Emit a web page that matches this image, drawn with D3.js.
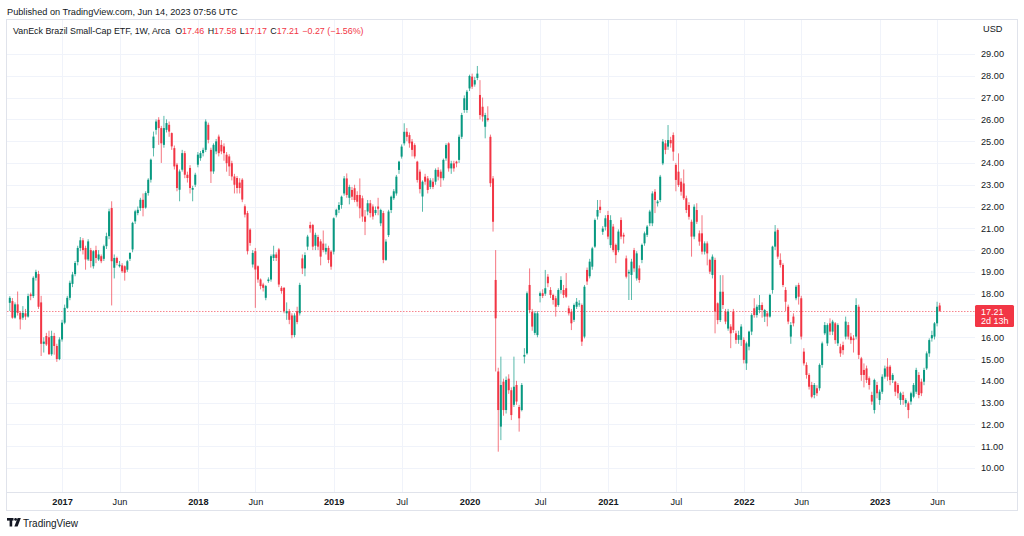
<!DOCTYPE html>
<html><head><meta charset="utf-8">
<script src="https://cdn.jsdelivr.net/npm/d3@7"></script>
<style>body{margin:0;background:#fff}svg{display:block;font-family:"Liberation Sans",Arial,sans-serif}</style>
</head><body><svg id="c" width="1024" height="536"></svg>
<script>
// ---- data (weekly bars, first bar week of 2016-08-15) ----
const startDate = "2016-08-15";
const opens = [
17.58,17.66,16.9,17.51,17.12,16.9,17.1,16.95,17.97,17.89,
18.73,18.9,17.6,15.7,16.06,16.0,15.22,16.06,15.6,15.0,
15.9,16.67,17.35,17.81,18.45,18.9,19.45,20.1,20.45,20.1,
19.57,20.0,19.26,20.0,19.57,19.72,19.6,20.18,20.64,21.93,
19.19,19.64,19.26,19.3,19.26,19.1,19.6,20.03,21.32,21.7,
21.93,22.31,21.95,22.62,23.23,24.68,25.52,25.98,25.6,24.83,
25.52,25.75,25.37,24.68,23.92,22.77,23.69,24.45,23.46,23.77,
22.77,23.0,23.92,24.22,24.45,24.6,25.75,24.6,23.61,24.53,
25.21,24.83,24.76,24.38,24.3,23.99,23.38,23.31,23.1,23.23,
22.01,21.7,20.94,19.34,19.95,19.26,18.65,18.42,17.81,18.58,
18.65,19.64,19.8,20.03,18.27,18.27,17.1,17.2,17.0,16.1,
17.2,17.1,19.62,19.16,20.16,21.15,21.15,20.2,20.6,20.4,
20.3,19.93,20.1,19.93,19.93,21.6,21.85,22.07,22.6,23.29,
22.4,22.76,22.84,22.53,22.53,22.38,21.54,21.77,22.15,22.0,
21.7,22.0,21.23,21.7,19.55,20.69,21.84,22.38,22.6,23.68,
24.29,24.9,25.43,25.28,24.98,24.82,24.06,23.6,22.46,23.37,
23.29,22.9,23.14,23.14,23.68,23.6,23.3,24.21,24.9,23.75,
23.98,24.06,24.14,25.2,26.43,26.43,27.42,27.96,27.6,27.9,
27.12,26.58,25.66,26.05,25.2,23.29,18.63,14.43,11.9,13.96,
12.66,14.1,13.57,12.9,13.81,12.8,12.66,15.11,15.26,18.4,
17.17,16.2,16.1,17.9,18.02,18.0,18.78,18.17,17.94,17.79,
17.48,18.17,18.17,18.25,17.33,17.17,16.8,17.4,17.5,17.48,
16.03,19.09,18.8,19.24,20.16,21.54,21.99,20.84,21.07,21.61,
20.23,21.08,20.24,20.0,21.38,20.7,19.62,18.93,18.86,20.0,
18.7,19.16,19.55,20.31,20.7,21.23,21.23,22.68,22.15,22.3,
23.98,24.9,24.75,25.05,25.28,23.91,23.6,23.14,23.06,22.38,
22.07,21.3,20.62,21.84,20.77,20.77,19.93,20.31,19.55,18.86,
19.55,17.56,16.79,18.09,17.18,16.4,16.49,17.18,16.18,15.88,
15.88,15.88,14.8,15.57,16.26,17.33,17.02,17.25,17.48,16.95,
17.1,16.95,18.17,20.16,20.92,19.55,19.32,18.17,17.4,16.03,
16.95,17.79,18.4,17.79,15.34,14.73,14.27,13.81,13.35,13.66,
13.66,14.73,16.18,15.72,16.64,16.26,16.64,15.72,15.57,15.64,
16.03,16.56,16.03,15.95,16.03,17.4,15.03,14.5,14.57,14.12,
13.35,12.66,13.81,13.12,13.5,14.19,14.65,14.65,14.04,13.96,
13.81,13.12,13.35,12.97,12.97,13.05,13.27,13.5,14.27,13.96,
13.96,14.57,15.26,15.95,16.03,16.64,17.46];
const highs = [
17.89,17.8,17.6,18.1,17.2,17.43,17.3,18.0,18.05,18.8,
19.1,19.05,17.9,16.0,16.2,16.3,16.3,16.2,15.7,16.0,
16.8,17.5,17.9,18.6,19.0,19.5,20.2,20.6,20.55,20.2,
20.5,20.1,20.0,20.2,20.0,19.8,20.25,20.8,21.9,22.24,
19.8,19.7,19.5,19.4,19.3,19.55,19.9,21.3,21.85,22.0,
22.4,22.6,22.7,23.3,24.2,25.44,26.0,26.1,25.7,26.16,
26.0,25.9,25.4,24.8,24.0,23.7,24.6,24.55,23.6,23.9,
22.95,23.55,24.5,24.55,24.7,26.0,25.85,24.7,24.9,25.1,
25.3,25.05,24.9,24.5,24.4,24.1,23.5,23.4,23.3,23.3,
22.1,21.8,21.0,20.0,20.1,19.3,18.7,18.5,18.4,18.75,
19.8,20.2,19.9,20.1,18.35,18.3,17.6,17.3,17.1,17.1,
17.4,18.5,19.8,19.9,20.7,21.3,21.2,20.8,20.7,20.5,
20.9,20.3,20.2,20.0,21.5,21.9,22.2,22.5,23.4,23.52,
23.0,22.9,23.0,22.7,23.29,22.5,21.84,22.3,22.3,22.1,
22.0,22.4,21.9,21.8,20.5,21.85,22.5,22.8,23.45,24.1,
24.85,25.82,25.6,25.4,25.1,24.9,24.1,23.7,23.2,23.5,
23.4,23.3,23.3,23.75,23.8,23.7,24.2,24.9,24.95,24.1,
24.1,24.1,25.3,26.3,27.1,27.35,28.05,28.1,27.95,28.45,
27.8,27.0,26.3,26.6,25.3,23.4,20.0,14.6,15.11,14.1,
14.2,14.3,13.7,15.11,14.0,12.9,13.9,15.5,18.1,19.16,
17.3,17.2,17.2,18.1,18.2,19.09,18.9,18.3,18.0,17.9,
18.25,18.8,18.4,18.95,17.45,17.3,17.55,17.8,17.7,17.55,
18.4,19.2,19.6,20.15,21.45,22.3,22.3,21.1,21.6,21.8,
21.6,21.2,20.3,20.95,21.5,20.8,19.75,19.1,19.6,20.1,
19.95,19.3,20.3,20.85,21.15,21.85,22.7,22.8,22.3,23.45,
25.1,25.05,25.74,25.2,25.4,24.0,24.44,23.3,23.7,22.5,
22.2,21.4,22.1,22.15,20.9,21.6,20.4,20.4,19.6,19.8,
19.65,17.6,18.85,18.85,17.3,17.3,16.6,17.3,16.3,16.3,
16.6,16.0,15.8,16.3,17.1,17.79,17.5,17.94,17.6,17.3,
17.2,18.0,20.2,21.15,21.0,19.85,19.4,18.3,17.5,16.7,
17.1,18.4,18.5,17.9,15.5,14.85,14.35,13.95,13.9,13.8,
14.8,15.8,16.7,16.64,16.87,16.8,16.7,16.64,15.7,15.8,
16.95,16.7,16.2,16.1,17.79,17.5,15.1,14.8,14.7,14.2,
13.5,14.1,13.95,13.6,14.3,14.7,15.04,14.73,14.35,14.0,
13.9,13.5,13.5,13.2,13.05,13.5,13.9,14.6,14.4,14.1,
14.6,15.35,15.95,16.3,16.7,17.63,17.58];
const lows = [
17.2,16.85,16.85,17.0,16.36,16.8,16.8,16.9,17.7,17.8,
18.6,17.3,15.14,15.3,15.6,15.2,15.15,15.2,14.87,14.95,
15.8,16.6,17.3,17.7,18.3,18.8,19.3,19.95,19.8,19.1,
19.5,19.2,19.15,19.4,19.5,19.4,19.5,20.05,20.5,17.46,
18.7,19.3,19.2,18.95,18.6,19.0,19.5,19.9,21.2,21.6,
21.8,21.55,21.9,22.5,23.1,24.3,25.3,24.83,24.0,24.7,
25.4,25.2,24.6,23.7,22.7,22.24,23.6,23.3,23.1,22.6,
22.24,22.9,23.8,24.1,24.3,24.5,24.9,23.08,23.5,24.4,
24.3,24.4,24.1,23.6,23.4,23.2,22.6,22.6,22.6,22.2,
21.5,19.8,20.2,19.2,17.35,18.5,18.2,18.1,17.7,18.5,
18.55,19.5,19.5,18.3,18.0,17.1,16.8,16.6,15.95,16.0,
16.6,17.0,18.9,18.8,20.0,20.8,20.0,20.0,20.0,19.3,
19.9,19.8,19.4,19.1,19.8,21.5,21.7,21.9,22.5,22.4,
22.1,22.3,22.2,22.0,21.46,21.3,20.69,21.6,21.5,21.4,
21.6,21.6,21.1,19.4,19.5,20.6,21.7,22.3,22.5,23.5,
24.2,24.8,25.0,24.7,24.3,24.2,23.1,22.6,21.76,23.0,
22.6,22.8,22.8,23.0,23.2,22.9,23.2,24.1,23.6,23.5,
23.6,23.8,24.0,25.1,26.3,26.3,27.3,27.4,27.5,27.8,
26.0,25.9,25.13,25.9,22.9,20.85,14.43,10.75,11.28,12.4,
12.5,13.4,12.2,12.8,12.9,11.67,12.6,14.8,15.2,17.1,
16.3,16.1,16.0,17.6,17.8,17.9,18.3,17.8,17.5,16.95,
17.4,18.0,17.8,17.8,17.0,16.33,16.7,17.3,17.4,15.6,
15.95,18.4,18.7,19.1,20.1,21.4,21.7,20.7,20.9,20.5,
20.1,19.9,19.4,19.9,20.5,20.3,18.7,17.71,17.71,19.0,
18.6,18.5,19.4,20.2,20.6,21.1,21.1,21.7,22.0,22.2,
23.9,24.4,24.6,24.7,24.1,22.7,22.9,22.5,22.3,21.7,
21.4,19.7,20.5,21.2,20.2,19.8,19.8,19.3,18.9,18.7,
16.18,16.6,16.7,17.3,16.6,16.3,15.5,16.2,15.7,15.7,
15.6,14.8,14.5,15.4,16.1,16.9,16.9,17.1,16.9,16.7,
16.5,16.9,18.0,20.0,19.6,19.2,18.3,17.2,16.6,15.7,
16.5,17.7,17.5,15.9,14.7,14.1,13.6,13.2,13.2,13.3,
13.55,14.6,16.1,15.6,16.1,16.1,15.7,15.6,15.1,15.2,
15.9,15.9,15.7,15.3,15.9,15.0,14.0,13.7,13.9,13.6,
12.9,12.5,13.2,12.9,13.4,14.1,14.0,13.8,13.9,13.3,
13.2,12.9,12.9,12.8,12.28,12.9,13.2,13.4,13.2,13.3,
13.8,14.5,15.1,15.8,15.9,16.5,17.17];
const closes = [
17.81,16.9,17.51,17.12,16.82,17.12,16.95,17.89,17.89,18.73,
19.0,17.4,15.7,15.8,15.67,15.22,16.06,15.6,15.0,15.9,
16.67,17.35,17.81,18.5,18.88,19.41,20.1,20.45,20.0,19.57,
20.4,19.5,19.95,19.64,19.8,19.49,20.18,20.64,21.78,19.49,
19.64,19.41,19.33,19.03,18.96,19.49,19.87,21.25,21.78,21.85,
22.31,21.93,22.62,23.23,24.15,25.21,25.9,25.6,24.9,25.6,
25.83,25.44,24.76,23.84,22.85,23.61,24.45,23.46,23.31,22.85,
22.85,23.46,24.38,24.45,24.6,25.9,25.06,23.61,24.83,24.99,
24.45,24.53,24.45,23.99,23.84,23.38,23.0,22.85,22.85,22.32,
21.63,19.95,20.33,19.87,19.11,18.65,18.35,18.27,18.35,18.65,
19.72,19.8,19.64,18.42,18.12,17.2,17.2,16.8,16.1,17.0,
16.7,18.4,19.16,19.77,20.62,21.0,20.16,20.7,20.16,19.7,
20.0,20.1,19.55,19.24,21.46,21.85,22.07,22.45,23.29,22.53,
22.9,22.45,22.3,22.22,21.92,21.54,21.3,22.15,21.7,21.54,
21.84,21.9,21.84,19.55,20.39,21.77,22.45,22.7,23.37,24.06,
24.75,25.43,25.2,24.9,24.6,24.3,23.22,22.8,23.14,23.14,
22.76,23.2,22.9,23.68,23.37,23.3,24.14,24.82,23.75,23.98,
23.75,23.98,25.2,26.2,26.97,27.27,27.99,27.5,27.8,28.1,
26.2,26.13,26.2,25.97,23.07,21.3,16.87,12.66,13.81,12.66,
14.04,13.57,12.43,13.73,13.05,12.28,13.81,15.19,18.02,17.25,
16.49,17.1,17.1,18.02,17.9,18.25,18.48,17.94,17.71,17.4,
18.17,18.63,17.94,17.86,17.1,16.64,17.48,17.63,17.55,15.8,
18.32,18.56,19.47,20.08,21.38,21.84,21.84,20.99,21.46,20.62,
21.38,20.0,19.77,20.85,20.62,20.62,18.78,19.0,19.47,19.16,
19.85,18.63,20.24,20.77,21.08,21.77,22.6,22.3,22.23,23.37,
24.98,24.6,25.05,24.9,24.52,23.22,22.99,22.68,22.38,21.84,
21.53,20.62,21.99,21.3,20.39,19.93,20.31,19.85,19.01,19.7,
17.18,16.79,18.09,17.48,16.72,17.18,16.18,16.33,15.88,16.1,
16.49,14.96,15.72,16.26,17.02,17.02,17.4,17.48,17.25,17.25,
16.95,17.94,20.16,20.85,19.7,19.32,18.4,17.63,16.72,16.56,
16.64,18.32,17.86,16.03,14.8,14.27,13.73,13.27,13.81,13.43,
14.73,15.72,16.56,16.56,16.26,16.72,15.87,16.56,15.26,15.41,
16.72,16.03,15.87,15.87,17.48,15.19,14.27,14.27,14.04,13.81,
13.05,14.04,13.43,13.5,14.19,14.57,14.19,14.04,14.27,13.5,
13.43,13.43,13.12,13.12,12.66,13.43,13.81,14.5,13.35,13.43,
14.5,15.26,15.87,16.1,16.64,17.4,17.21];

const priceTicks = [10,11,12,13,14,15,16,17,18,19,20,21,22,23,24,25,26,27,28,29];
const timeTickDates = ["2017-01-02","2017-06-05","2018-01-01","2018-06-04","2018-12-31","2019-07-01","2019-12-30","2020-07-06","2021-01-04","2021-07-05","2022-01-03","2022-06-06","2023-01-02","2023-06-05"];
const timeTickLabels = ["2017","Jun","2018","Jun","2019","Jul","2020","Jul","2021","Jul","2022","Jun","2023","Jun"];
const publishedText = "Published on TradingView.com, Jun 14, 2023 07:56 UTC";
const symbolText = "VanEck Brazil Small-Cap ETF, 1W, Arca";
const legendKeys = ["O","H","L","C"];
const legendVals = ["17.46","17.58","17.17","17.21"];
const changeText = "\u22120.27 (\u22121.56%)";
const lastPrice = 17.21;
const countdown = "2d 13h";

// ---- drawing ----
const W = 1024, H = 536;
const UP = "#089981", DOWN = "#f23645", TXT = "#131722", GRID = "#f0f3fa";
const FONT = '"Liberation Sans",Arial,sans-serif';
const svg = d3.select("#c");
svg.append("rect").attr("width", W).attr("height", H).attr("fill", "#fff");

const plot = {l: 7, r: 975, t: 20, b: 492};
const t0 = new Date(startDate + "T00:00:00Z");
const bars = opens.map((o, i) => ({
  date: d3.utcDay.offset(t0, 7 * i), o, h: highs[i], l: lows[i], c: closes[i]
}));
const x = d3.scaleUtc().domain([bars[0].date, bars[bars.length - 1].date]).range([9.8, 939.7]);
const y = d3.scaleLinear().domain([10, 29]).range([468, 54]);
const tDates = timeTickDates.map(s => new Date(s + "T00:00:00Z"));

// frame
svg.append("rect").attr("x", 6.5).attr("y", 19.5).attr("width", 1011).attr("height", 491)
  .attr("fill", "none").attr("stroke", "#e0e3eb");
svg.append("line").attr("x1", 6.5).attr("x2", 1017.5).attr("y1", plot.b + 0.5).attr("y2", plot.b + 0.5)
  .attr("stroke", "#e0e3eb");

// grid
svg.append("defs").append("clipPath").attr("id", "pc").append("rect")
  .attr("x", plot.l).attr("y", plot.t).attr("width", plot.r - plot.l).attr("height", plot.b - plot.t);
const grid = svg.append("g");
grid.selectAll("line.h").data(priceTicks).join("line")
  .attr("x1", plot.l).attr("x2", plot.r)
  .attr("y1", d => Math.round(y(d)) + 0.5).attr("y2", d => Math.round(y(d)) + 0.5)
  .attr("stroke", GRID);
grid.selectAll("line.v").data(tDates).join("line")
  .attr("y1", plot.t).attr("y2", plot.b)
  .attr("x1", d => Math.round(x(d)) + 0.5).attr("x2", d => Math.round(x(d)) + 0.5)
  .attr("stroke", GRID);

// last price dotted line
svg.append("line").attr("x1", plot.l).attr("x2", plot.r)
  .attr("y1", Math.round(y(lastPrice)) + 0.5).attr("y2", Math.round(y(lastPrice)) + 0.5)
  .attr("stroke", "#f7848f").attr("stroke-width", 1).attr("stroke-dasharray", "1.5,1.5");

// candles
const cg = svg.append("g").attr("clip-path", "url(#pc)");
const bw = 2;
const candle = cg.selectAll("g.c").data(bars).join("g");
candle.append("line")
  .attr("x1", d => x(d.date)).attr("x2", d => x(d.date))
  .attr("y1", d => y(Math.max(d.h, d.o, d.c))).attr("y2", d => y(Math.min(d.l, d.o, d.c)))
  .attr("stroke", d => d.c >= d.o ? UP : DOWN).attr("stroke-width", 0.9).attr("opacity", 0.75);
candle.append("rect")
  .attr("x", d => x(d.date) - bw / 2).attr("width", bw)
  .attr("y", d => y(Math.max(d.o, d.c)))
  .attr("height", d => Math.max(1, Math.abs(y(d.o) - y(d.c))))
  .attr("fill", d => d.c >= d.o ? UP : DOWN);

// price axis (label at last price replaces the tick label it covers)
const labelTicks = priceTicks.filter(v => Math.abs(y(v) - y(lastPrice)) > 11);
const yAxis = svg.append("g").attr("transform", `translate(981,0)`)
  .call(d3.axisRight(y).tickValues(labelTicks).tickFormat(d3.format(".2f")).tickSize(0).tickPadding(0));
yAxis.select(".domain").remove();
yAxis.selectAll("text").attr("fill", TXT).attr("font-size", 9.2).attr("font-family", FONT);
svg.append("text").attr("x", 983).attr("y", 32).attr("fill", TXT).attr("font-size", 9.2).text("USD");

// last price label
const ly = Math.round(y(lastPrice));
svg.append("rect").attr("x", 975).attr("y", ly - 6).attr("width", 39).attr("height", 22)
  .attr("rx", 1.5).attr("fill", DOWN);
svg.append("text").attr("x", 981).attr("y", ly + 3.5).attr("fill", "#fff").attr("font-size", 9).text(d3.format(".2f")(lastPrice));
svg.append("text").attr("x", 981).attr("y", ly + 13).attr("fill", "#fff").attr("font-size", 9).text(countdown);

// time axis
const xAxis = svg.append("g").attr("transform", `translate(0,${plot.b + 6})`)
  .call(d3.axisBottom(x).tickValues(tDates).tickFormat((d, i) => timeTickLabels[i]).tickSize(0).tickPadding(0));
xAxis.select(".domain").remove();
xAxis.selectAll("text").attr("fill", TXT).attr("font-size", 9.2).attr("font-family", FONT)
  .attr("font-weight", (d, i) => /^\d{4}$/.test(timeTickLabels[i]) ? "bold" : "normal");

// header
svg.append("text").attr("x", 7).attr("y", 14.5).attr("fill", TXT).attr("font-size", 9.2).text(publishedText);
const leg = svg.append("text").attr("x", 13).attr("y", 34).attr("font-size", 8.9).attr("fill", TXT);
leg.append("tspan").text(symbolText);
legendKeys.forEach((k, i) => {
  leg.append("tspan").attr("dx", i === 0 ? 5 : 3.4).attr("fill", TXT).text(k);
  leg.append("tspan").attr("fill", DOWN).text(legendVals[i]);
});
leg.append("tspan").attr("dx", 3.4).attr("fill", DOWN).text(changeText);

// footer logo
const logo = svg.append("g").attr("fill", TXT);
logo.append("rect").attr("x", 7).attr("y", 518).attr("width", 6.5).attr("height", 2.6);
logo.append("rect").attr("x", 9.6).attr("y", 518).attr("width", 2.6).attr("height", 8.5);
logo.append("circle").attr("cx", 15.6).attr("cy", 519.4).attr("r", 1.4);
logo.append("path").attr("d", "M17.6,518 L20.8,518 L17.6,526.5 L14.4,526.5 Z");
svg.append("text").attr("x", 23).attr("y", 526.5).attr("fill", TXT).attr("font-size", 10).text("TradingView");
</script></body></html>
